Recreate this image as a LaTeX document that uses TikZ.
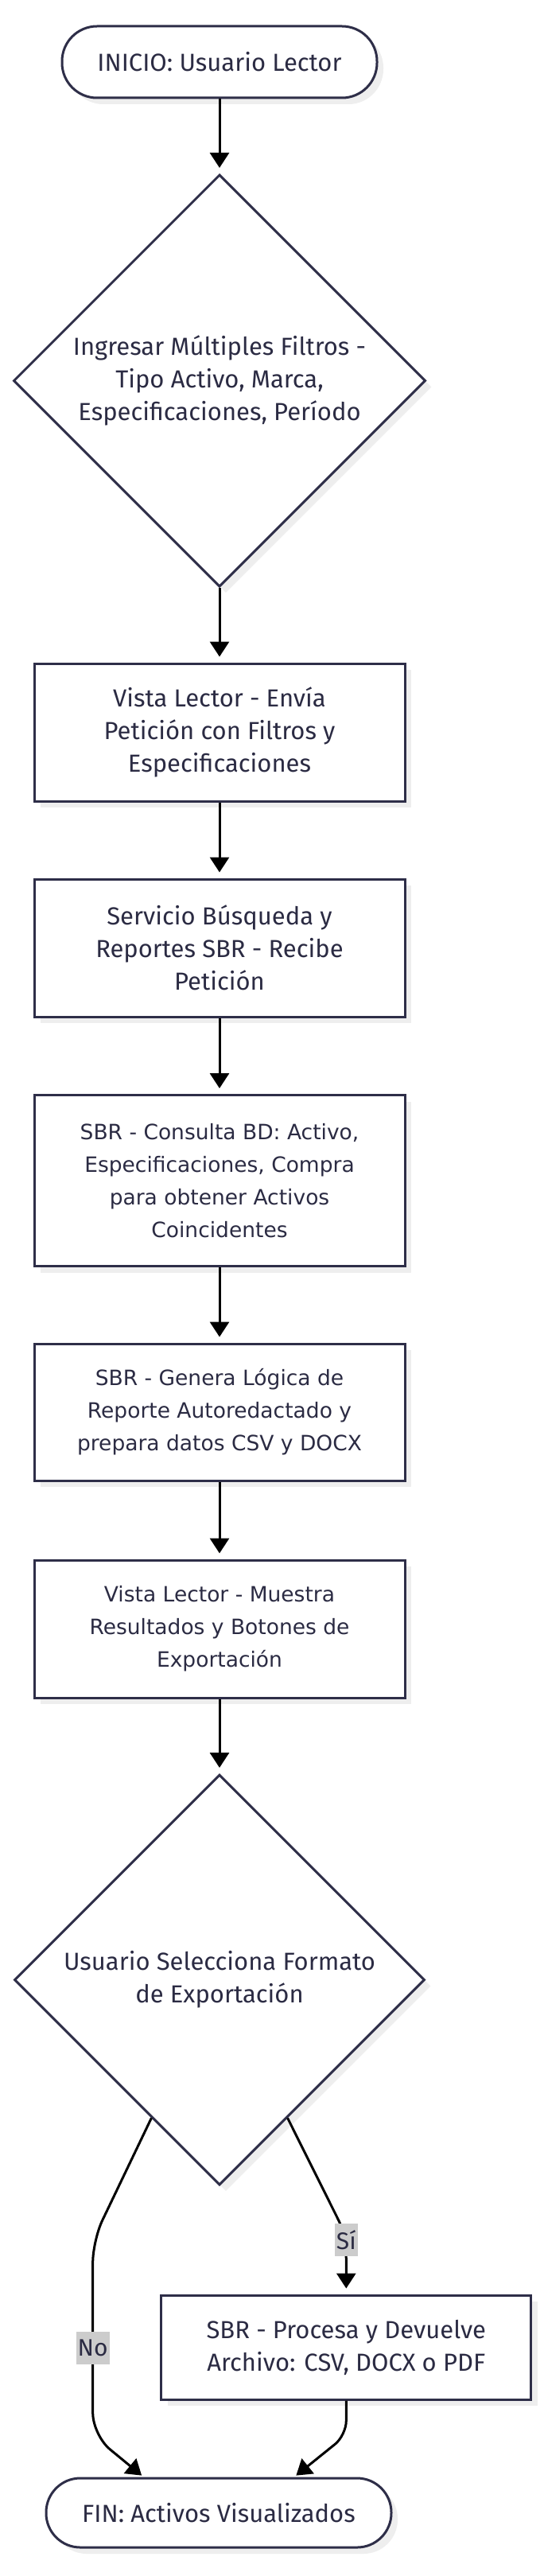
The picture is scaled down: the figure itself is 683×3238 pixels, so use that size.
\documentclass[tikz,border=0pt]{standalone}
\usepackage{fontspec}
\setmainfont{Fira Sans}
\newfontfamily\widefont{DejaVu Sans}
\usetikzlibrary{shapes.geometric,arrows.meta,calc,shadows}
\definecolor{nodeline}{HTML}{2E2E48}
\definecolor{txt}{HTML}{2B2B43}
\definecolor{shadowc}{HTML}{EEEEEE}
\definecolor{lblbg}{HTML}{CCCCCC}
\begin{document}
\begin{tikzpicture}[x=1pt,y=-1pt,
  base/.style={draw=nodeline, line width=3pt, fill=white, text=txt, align=center,
    font=\fontsize{31}{41}\selectfont,
    drop shadow={shadow xshift=8pt,shadow yshift=-8pt,fill=shadowc,opacity=1}},
  term/.style={base, rectangle, rounded corners=44pt, minimum width=396pt, minimum height=90pt, inner sep=0pt},
  procbox/.style={base, rectangle, minimum width=466pt, minimum height=173pt, inner sep=0pt},
  decision/.style={base, diamond, aspect=1, minimum width=518pt, minimum height=518pt, inner sep=0pt},
  widetext/.style={font=\widefont\fontsize{26.5}{41}\selectfont},
  arr/.style={line width=3pt, draw=black, -{Triangle[length=19pt,width=24pt]}, shorten >=7pt},
  elabel/.style={fill=lblbg, text=txt, font=\fontsize{30}{41}\selectfont, inner sep=2pt, minimum height=41pt}
]
\useasboundingbox (0,0) rectangle (683,3238);
\fill[white] (0,0) rectangle (683,3238);

\node[term] (start) at (276,78) {INICIO: Usuario Lector};
\node[decision] (d1) at (276,478.5) {Ingresar Múltiples Filtros -\\Tipo Activo, Marca,\\Especificaciones, Período};
\node[procbox] (b1) at (276,920.5) {Vista Lector - Envía\\Petición con Filtros y\\Especificaciones};
\node[procbox] (b2) at (276,1191.5) {Servicio Búsqueda y\\Reportes SBR - Recibe\\Petición};
\node[procbox, widetext, minimum height=215pt] (b3) at (276,1484) {SBR - Consulta BD: Activo,\\Especificaciones, Compra\\para obtener Activos\\Coincidentes};
\node[procbox, widetext, minimum height=172pt] (b4) at (276,1775) {SBR - Genera Lógica de\\Reporte Autoredactado y\\prepara datos CSV y DOCX};
\node[procbox, widetext] (b5) at (276,2047.5) {Vista Lector - Muestra\\Resultados y Botones de\\Exportación};
\node[decision, minimum width=516pt, minimum height=516pt] (d2) at (276,2488.5) {Usuario Selecciona Formato\\de Exportación};
\node[procbox, minimum width=465pt, minimum height=131pt] (b6) at (435.3,2950.5) {SBR - Procesa y Devuelve\\Archivo: CSV, DOCX o PDF};
\node[term, minimum width=434pt, minimum height=87pt, rounded corners=43pt] (end) at (275,3158.5) {FIN: Activos Visualizados};

\draw[arr] (start) -- (d1);
\draw[arr] (d1) -- (b1);
\draw[arr] (b1) -- (b2);
\draw[arr] (b2) -- (b3);
\draw[arr] (b3) -- (b4);
\draw[arr] (b4) -- (b5);
\draw[arr] (b5) -- (d2);

\coordinate (noA) at ($(d2.south)!0.33!(d2.west)$);
\coordinate (noB) at (116.7,2816);
\coordinate (noC) at (116.7,3061);
\coordinate (siA) at ($(d2.south)!0.33!(d2.east)$);
\coordinate (siB) at (430.3,2800);
\coordinate (siC) at (435.3,2830);
\coordinate (fnB) at (435.3,3061);

\draw[arr, rounded corners=28pt, shorten >=3pt] (noA) -- (noB) -- (noC) -- ($(end.north)+(-94.5,0)$);
\draw[arr, rounded corners=10pt] (siA) -- (siB) -- (siC) -- (b6.north);
\draw[arr, rounded corners=18pt, shorten >=3pt] (b6.south) -- (fnB) -- ($(end.north)+(95,0)$);

\node[elabel] (lno) at (116.7,2951) {No};
\node[elabel] (lsi) at (435.3,2815.6) {Sí};
\end{tikzpicture}
\end{document}
